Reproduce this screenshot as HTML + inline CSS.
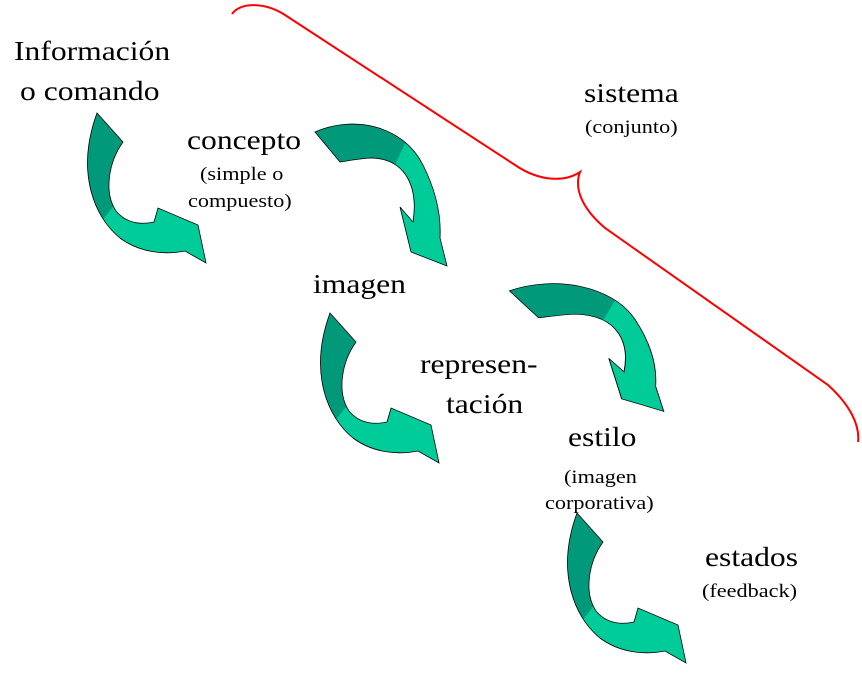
<!DOCTYPE html>
<html><head><meta charset="utf-8"><style>
html,body{margin:0;padding:0;background:#fff;}
body{width:862px;height:699px;position:relative;overflow:hidden;font-family:"Liberation Serif",serif;color:#000;}
.t{position:absolute;white-space:nowrap;line-height:1;transform:scaleX(1.17);transform-origin:0 0;}
.b{font-size:27px;}
.s{font-size:19px;}
</style></head><body>
<svg width="862" height="699" style="position:absolute;left:0;top:0">
<defs>
<linearGradient id="ga" x1="0" y1="0" x2="1" y2="1">
<stop offset="0.42" stop-color="#00997a"/><stop offset="0.42" stop-color="#00cc99"/></linearGradient>
<linearGradient id="gb" x1="0" y1="0" x2="1" y2="0.5">
<stop offset="0.6" stop-color="#00997a"/><stop offset="0.6" stop-color="#00cc99"/></linearGradient>
<path id="A" d="M17,0 L43,29 C28,50 24,80 36,98 C46,110 60,112 74,109 L78,95 L118,112 L126,150 L105,138 C85,142 60,140 40,125 C15,105 -5,60 17,0 Z" fill="url(#ga)" stroke="#000" stroke-width="0.8"/>
<path id="B" d="M2,12 C40,-5 90,5 110,45 C125,75 128,100 127,118 L134,146 L98,132 L87,87 L100,102 C105,70 95,40 60,38 C50,38 40,40 27,42 Z" fill="url(#gb)" stroke="#000" stroke-width="0.8"/>
</defs>
<use href="#A" transform="translate(80,113)"/>
<use href="#A" transform="translate(313,313)"/>
<use href="#A" transform="translate(560,513)"/>
<use href="#B" transform="translate(313,120)"/>
<use href="#B" transform="translate(507,280) scale(1.17,0.9)"/>
<path d="M232,14 C240,2 265,2 285,15 L515,165 C540,182 565,182 580,172 C575,185 578,205 605,228 L828,385 C850,405 860,425 858,442" fill="none" stroke="#f00" stroke-width="2"/>
</svg>
<div class="t b" style="left:14px;top:38px;">Información</div>
<div class="t b" style="left:20px;top:78px;">o comando</div>
<div class="t b" style="left:187px;top:127px;">concepto</div>
<div class="t s" style="left:200px;top:165px;">(simple o</div>
<div class="t s" style="left:188px;top:192px;">compuesto)</div>
<div class="t b" style="left:584px;top:80px;">sistema</div>
<div class="t s" style="left:585px;top:118px;">(conjunto)</div>
<div class="t b" style="left:313px;top:271px;">imagen</div>
<div class="t b" style="left:420px;top:351px;">represen-</div>
<div class="t b" style="left:446px;top:391px;">tación</div>
<div class="t b" style="left:568px;top:424px;">estilo</div>
<div class="t s" style="left:564px;top:468px;">(imagen</div>
<div class="t s" style="left:545px;top:494px;">corporativa)</div>
<div class="t b" style="left:705px;top:544px;">estados</div>
<div class="t s" style="left:702px;top:582px;">(feedback)</div>
</body></html>
